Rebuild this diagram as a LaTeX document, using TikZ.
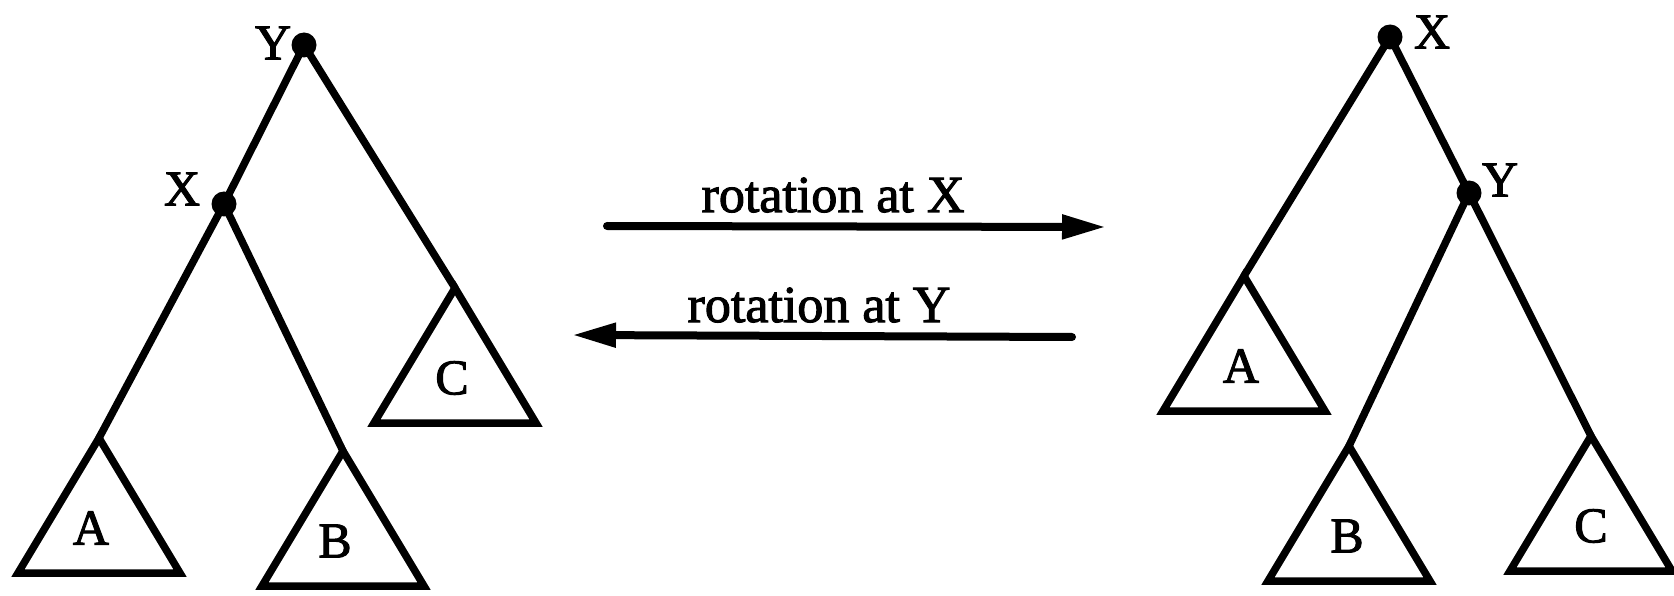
\documentclass[tikz,border=0pt]{standalone}
\usepackage{fontspec}
\setmainfont{Liberation Serif}[FakeBold=2]
\usetikzlibrary{arrows.meta,calc}
\tikzset{
  dot/.style={circle,fill=black,inner sep=0pt,minimum size=25pt},
  lab/.style={inner sep=0pt,font=\fontsize{50}{60}\selectfont},
  edge/.style={line width=7.5pt,line cap=round},
  sub/.style={line width=7.5pt,line join=miter},
  arr/.style={line width=8pt,line cap=round,-{Triangle[length=44pt,width=23pt]}},
  arrlab/.style={inner sep=0pt,anchor=base,font=\fontsize{52}{60}\selectfont}
}
\newcommand{\subtree}[4]{%
  \draw[sub] (#1) -- ++(-81,135) -- ++(162,0) -- cycle;
  \node[lab] (#2) at ($(#1)+(#4,90)$) {#3};}
\begin{document}
\begin{tikzpicture}[x=1pt,y=-1pt]
\useasboundingbox (0,0) rectangle (1674,596);
% left tree
\node[dot] (LY) at (304,45) {};
\node[lab] (LYl) at (273,43) {Y};
\node[dot] (LX) at (224,204) {};
\node[lab] (LXl) at (182,189) {X};
\coordinate (LA) at (99,438);
\coordinate (LB) at (343,451);
\coordinate (LC) at (455,288);
\draw[edge] (LY.center) -- (LX.center);
\draw[edge] (LY.center) -- (LC);
\draw[edge] (LX.center) -- (LA);
\draw[edge] (LX.center) -- (LB);
\subtree{LA}{LAl}{A}{-8}
\subtree{LB}{LBl}{B}{-8}
\subtree{LC}{LCl}{C}{-3}
% arrows
\coordinate (a1s) at (607,226);
\coordinate (a1e) at (1106,227);
\coordinate (a2s) at (1072,337);
\coordinate (a2e) at (572,335);
\draw[arr] (a1s) -- (a1e);
\draw[arr] (a2s) -- (a2e);
\node[arrlab] (t1) at (833,212) {rotation at X};
\node[arrlab] (t2) at (819,322) {rotation at Y};
% right tree
\node[dot] (RX) at (1390,37) {};
\node[lab] (RXl) at (1432,32) {X};
\node[dot] (RY) at (1469,193) {};
\node[lab] (RYl) at (1500,180) {Y};
\coordinate (RA) at (1244,276);
\coordinate (RB) at (1349,446);
\coordinate (RC) at (1591,436);
\draw[edge] (RX.center) -- (RY.center);
\draw[edge] (RX.center) -- (RA);
\draw[edge] (RY.center) -- (RB);
\draw[edge] (RY.center) -- (RC);
\subtree{RA}{RAl}{A}{-3}
\subtree{RB}{RBl}{B}{-2}
\subtree{RC}{RCl}{C}{0}
\end{tikzpicture}
\end{document}
